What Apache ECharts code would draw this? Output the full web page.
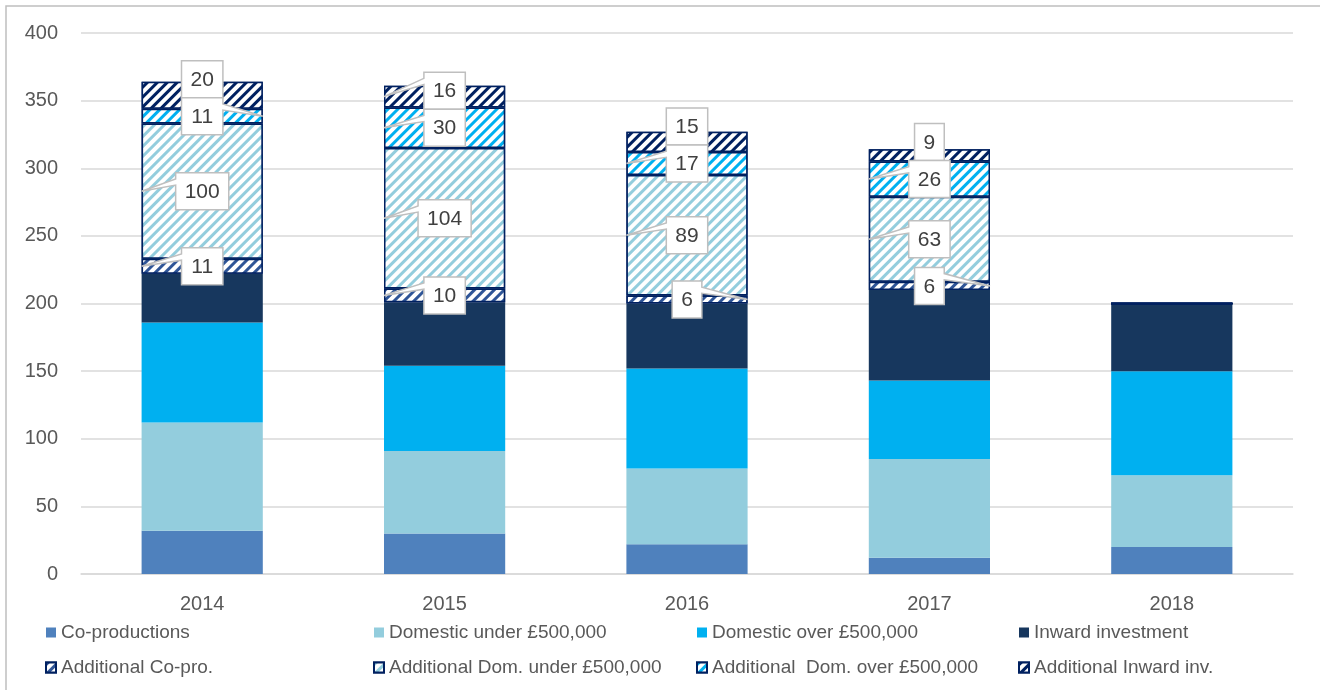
<!DOCTYPE html>
<html>
<head>
<meta charset="utf-8">
<script src="https://cdn.jsdelivr.net/npm/echarts@6/dist/echarts.min.js"></script>
<style>
html,body{margin:0;padding:0;background:#ffffff;}
#chart{width:1320px;height:690px;}
</style>
</head>
<body>
<div id="chart"></div>
<script>
// ---- data ----
const years = ['2014', '2015', '2016', '2017', '2018'];
const coProductions = [32, 30, 22, 12, 20];
const domesticUnder = [80, 61, 56, 73, 53];
const domesticOver  = [74, 63, 74, 58, 77];
const inwardInvestment = [36, 47, 48, 67, 50];
const addCoPro      = [11, 10, 6, 6, 0];
const addDomUnder   = [100, 104, 89, 63, 0];
const addDomOver    = [11, 30, 17, 26, 0];
const addInward     = [20, 16, 15, 9, 0];
const yTicks = [0, 50, 100, 150, 200, 250, 300, 350, 400];

const seriesNames = [
  'Co-productions', 'Domestic under £500,000', 'Domestic over £500,000', 'Inward investment',
  'Additional Co-pro.', 'Additional Dom. under £500,000', 'Additional  Dom. over £500,000', 'Additional Inward inv.'
];

// ---- layout / style config (not data) ----
// callout tail side per year for [co-pro, dom under, dom over, inward]: L, R or N (none)
const tailSide = [
  ['L', 'L', 'R', 'N'],
  ['L', 'L', 'L', 'L'],
  ['R', 'L', 'L', 'N'],
  ['R', 'L', 'L', 'N'],
  ['N', 'N', 'N', 'N']
];
const FONT = '"Liberation Sans", Arial, sans-serif';
const solidColors = ['#4f81bd', '#93cddd', '#00b0f0', '#17375e'];
const hatchColors = ['#2f5597', '#93cddd', '#00b0f0', '#002060'];

function hatch(c) {
  return {
    symbol: 'rect',
    symbolSize: 1,
    color: c,
    backgroundColor: '#ffffff',
    dashArrayX: [1, 0],
    dashArrayY: [3, 4],
    rotation: -Math.PI / 4
  };
}

const baseArrays = [coProductions, domesticUnder, domesticOver, inwardInvestment];
const addArrays = [addCoPro, addDomUnder, addDomOver, addInward];

const series = [];
baseArrays.forEach((arr, k) => {
  series.push({
    name: seriesNames[k],
    type: 'bar',
    stack: 'total',
    barWidth: '50%',
    data: arr,
    itemStyle: { color: solidColors[k] },
    silent: true
  });
});
addArrays.forEach((arr, k) => {
  series.push({
    name: seriesNames[4 + k],
    type: 'bar',
    stack: 'total',
    barWidth: '50%',
    data: arr,
    itemStyle: {
      color: '#ffffff',
      borderColor: '#002060',
      borderWidth: 1.5,
      decal: hatch(hatchColors[k])
    },
    silent: true
  });
});

// callout labels for the additional segments
series.push({
  type: 'custom',
  name: 'callouts',
  z: 10,
  silent: true,
  data: years.map((y, i) => [i]),
  encode: { x: 0 },
  renderItem: function (params, api) {
    const i = api.value(0);
    const base = coProductions[i] + domesticUnder[i] + domesticOver[i] + inwardInvestment[i];
    const cx = api.coord([i, 0])[0];
    const half = api.size([1, 0])[0] * 0.25;
    const H = 37;
    let cum = base;
    let prevY = Infinity;
    const items = [];
    for (let k = 0; k < 4; k++) {
      const v = addArrays[k][i];
      if (v > 0) {
        const segY = api.coord([i, cum + v / 2])[1];
        const y = Math.min(segY, prevY - H);
        prevY = y;
        items.push({ k: k, v: v, segY: segY, y: y });
      }
      cum += v;
    }
    const children = [];
    // draw top first so lower callouts sit on top
    for (let n = items.length - 1; n >= 0; n--) {
      const it = items[n];
      const txt = String(it.v);
      const w = 18 + 11.7 * txt.length;
      const x0 = cx - w / 2, x1 = cx + w / 2;
      const y0 = it.y - H / 2, y1 = it.y + H / 2;
      const side = tailSide[i][it.k];
      let pts;
      if (side === 'L') {
        pts = [[x0, y0], [x1, y0], [x1, y1], [x0, y1], [x0, y0 + H / 3], [cx - half, it.segY], [x0, y0 + H / 6]];
      } else if (side === 'R') {
        pts = [[x0, y0], [x1, y0], [x1, y0 + H / 6], [cx + half, it.segY], [x1, y0 + H / 3], [x1, y1], [x0, y1]];
      } else {
        pts = [[x0, y0], [x1, y0], [x1, y1], [x0, y1]];
      }
      children.push({
        type: 'polygon',
        shape: { points: pts },
        style: { fill: '#ffffff', stroke: '#bfbfbf', lineWidth: 1.5 }
      });
      children.push({
        type: 'text',
        style: {
          text: txt, x: cx, y: it.y + 1,
          align: 'center', verticalAlign: 'middle',
          fontSize: 21, fontFamily: FONT, fill: '#404040'
        }
      });
    }
    return { type: 'group', children: children };
  }
});

const legendCommon = {
  orient: 'vertical',
  top: 618,
  itemWidth: 10,
  itemHeight: 10,
  itemGap: 16,
  icon: 'rect',
  textStyle: { color: '#595959', fontSize: 19, fontFamily: FONT },
  selectedMode: false
};

const option = {
  animation: false,
  backgroundColor: '#ffffff',
  textStyle: { fontFamily: FONT },
  graphic: [{
    type: 'rect',
    shape: { x: 6, y: 6, width: 1400, height: 800 },
    style: { fill: 'none', stroke: '#bfbfbf', lineWidth: 1.5 },
    silent: true
  }],
  grid: { left: 81, right: 27, top: 33, bottom: 116 },
  legend: [
    Object.assign({ left: 40, data: [seriesNames[0], seriesNames[4]] }, legendCommon),
    Object.assign({ left: 368, data: [seriesNames[1], seriesNames[5]] }, legendCommon),
    Object.assign({ left: 691, data: [seriesNames[2], seriesNames[6]] }, legendCommon),
    Object.assign({ left: 1013, data: [seriesNames[3], seriesNames[7]] }, legendCommon)
  ],
  xAxis: {
    type: 'category',
    data: years,
    axisLine: { lineStyle: { color: '#d9d9d9', width: 1.5 } },
    axisTick: { show: false },
    axisLabel: { color: '#595959', fontSize: 20, margin: 20, fontFamily: FONT }
  },
  yAxis: {
    type: 'value',
    min: yTicks[0],
    max: yTicks[yTicks.length - 1],
    interval: yTicks[1] - yTicks[0],
    axisLine: { show: false },
    axisTick: { show: false },
    splitLine: { lineStyle: { color: '#d9d9d9', width: 1.5 } },
    axisLabel: { color: '#595959', fontSize: 20, margin: 23, fontFamily: FONT }
  },
  series: series
};

const chart = echarts.init(document.getElementById('chart'), null, { renderer: 'canvas' });
chart.setOption(option);
</script>
</body>
</html>
